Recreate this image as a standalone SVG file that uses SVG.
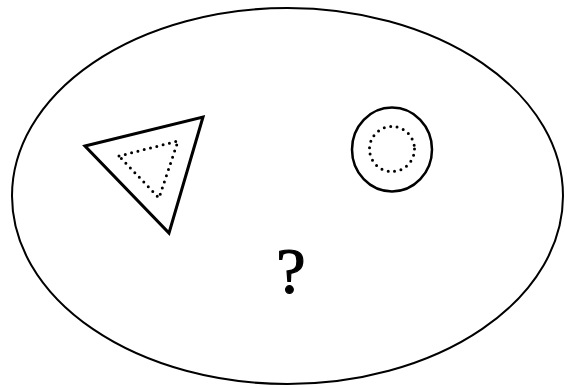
<svg xmlns="http://www.w3.org/2000/svg" width="567" height="387" viewBox="0 0 567 387">
<style>
.solid{fill:none;stroke:#000;}
.dot{fill:none;stroke:#000;stroke-width:3;stroke-dasharray:0 6.5;stroke-linecap:round;}
.q{font-family:"Liberation Serif",serif;font-size:66px;text-anchor:middle;fill:#000;stroke:#000;stroke-width:1.2;}
</style>
<rect width="567" height="387" fill="#fff"/>
<g id="region">
<ellipse class="solid" cx="287.5" cy="196" rx="275.5" ry="188" stroke-width="2"/>
</g>
<g id="triangle">
<polygon class="solid" points="85,146 203,117 169,233" stroke-width="3"/>
<polygon class="dot" points="119,156 178,141 159,198"/>
</g>
<g id="circle">
<ellipse class="solid" cx="392" cy="149.5" rx="40" ry="42" stroke-width="2.5"/>
<circle class="dot" cx="392" cy="149" r="22.5"/>
</g>
<g id="question">
<text class="q" x="291" y="293">?</text>
</g>
<g id="connectors"></g>
</svg>
